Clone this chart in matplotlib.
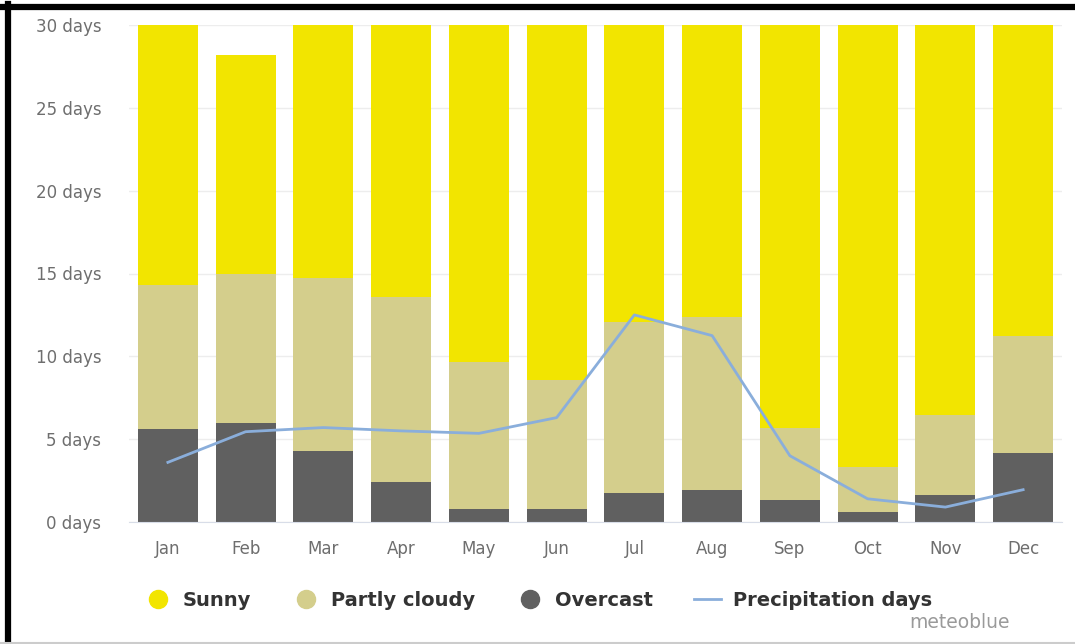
import numpy as np
import matplotlib.pyplot as plt
from matplotlib.lines import Line2D

months = ['Jan', 'Feb', 'Mar', 'Apr', 'May', 'Jun',
          'Jul', 'Aug', 'Sep', 'Oct', 'Nov', 'Dec']
month_days = [31, 28.2, 31, 30, 31, 30, 31, 31, 30, 31, 30, 31]
overcast = [5.6, 6.0, 4.3, 2.4, 0.8, 0.8, 1.75, 1.95, 1.3, 0.6, 1.6, 4.15]
# top of the partly cloudy segment (overcast + partly cloudy)
cloudy_top = [14.3, 15.0, 14.7, 13.6, 9.65, 8.55, 12.1, 12.4, 5.65, 3.3, 6.45, 11.2]
precip_days = [3.6, 5.45, 5.7, 5.5, 5.35, 6.3, 12.5, 11.25, 4.0, 1.4, 0.9, 1.95]
yticks = [0, 5, 10, 15, 20, 25, 30]

overcast = np.array(overcast)
cloudy_top = np.array(cloudy_top)
partly = cloudy_top - overcast
sunny = np.array(month_days) - cloudy_top

c_sunny = '#f2e500'
c_partly = '#d4ce8c'
c_over = '#606060'
c_precip = '#8aaedb'

fig = plt.figure(figsize=(10.75, 6.44), dpi=100)
ax = fig.add_axes([129 / 1075, 122 / 644, 933 / 1075, 497 / 644])

x = np.arange(len(months))
w = 0.77
ax.bar(x, overcast, w, color=c_over, zorder=2)
ax.bar(x, partly, w, bottom=overcast, color=c_partly, zorder=2)
ax.bar(x, sunny, w, bottom=cloudy_top, color=c_sunny, zorder=2)
ax.plot(x, precip_days, color=c_precip, lw=2, zorder=3)

ax.set_xlim(-0.5, 11.5)
ax.set_ylim(0, 30)
ax.set_yticks(yticks)
ax.set_yticklabels(['%d days' % v for v in yticks])
ax.set_xticks(x)
ax.set_xticklabels(months)
ax.tick_params(axis='both', length=0, labelsize=12, labelcolor='#6e6e6e')
ax.tick_params(axis='y', pad=20)
ax.tick_params(axis='x', pad=13)
ax.grid(axis='y', color='#ededed', lw=1, zorder=0)
for s in ['top', 'right', 'left']:
    ax.spines[s].set_visible(False)
ax.spines['bottom'].set_color('#d8dde8')

handles = [
    Line2D([], [], ls='none', marker='o', ms=13, color=c_sunny),
    Line2D([], [], ls='none', marker='o', ms=13, color=c_partly),
    Line2D([], [], ls='none', marker='o', ms=13, color=c_over),
    Line2D([], [], color=c_precip, lw=2),
]
labels = ['Sunny', 'Partly cloudy', 'Overcast', 'Precipitation days']
leg = fig.legend(handles, labels, loc='center', ncol=4,
                 bbox_to_anchor=(538 / 1075, 1 - 600 / 644),
                 frameon=False, handlelength=1.4, handletextpad=0.6,
                 columnspacing=2.1, prop={'size': 14, 'weight': 'bold'})
for t in leg.get_texts():
    t.set_color('#333333')

fig.text(1010 / 1075, 1 - 622 / 644, 'meteoblue', ha='right', va='center',
         fontsize=13.5, color='#9a9a9a')

# frame along the top and left edge, thin line at the bottom
fig.add_artist(Line2D([0, 1], [1 - 7 / 644, 1 - 7 / 644], color='black', lw=4.5))
fig.add_artist(Line2D([8 / 1075, 8 / 1075], [0, 1 - 4 / 644], color='black', lw=4.5))
fig.add_artist(Line2D([0, 1], [1 / 644, 1 / 644], color='#cccccc', lw=1.5))

fig.savefig('out.png', dpi=100)
